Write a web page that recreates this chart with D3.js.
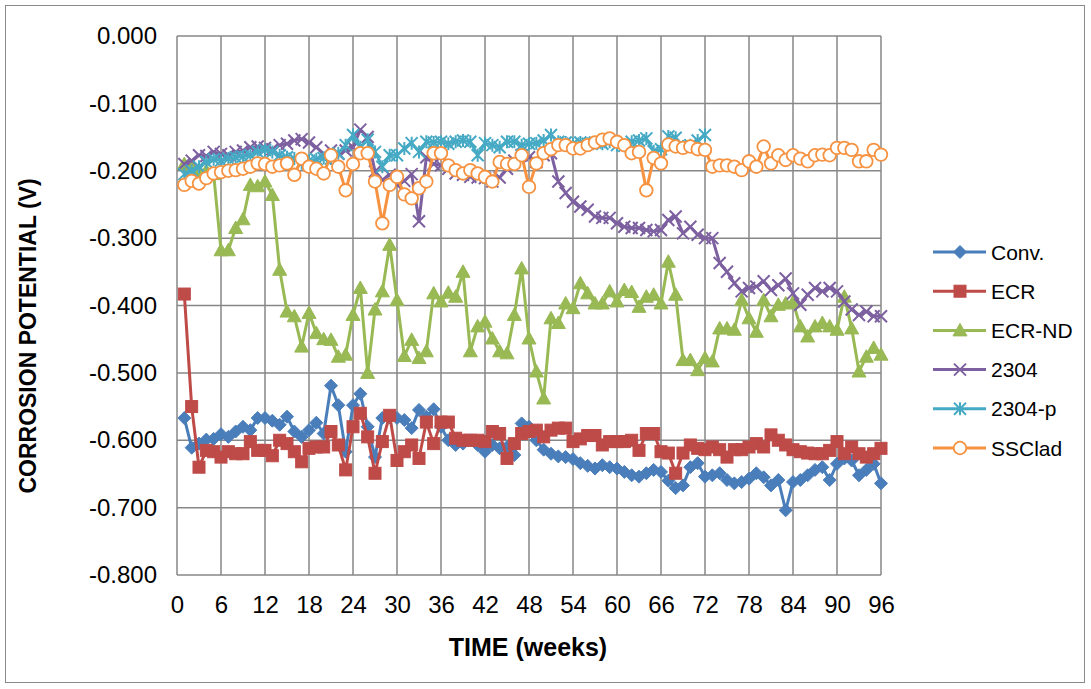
<!DOCTYPE html>
<html><head><meta charset="utf-8">
<script src="https://cdn.jsdelivr.net/npm/d3@7"></script>
<style>body{margin:0;background:#fff;}svg{display:block;font-family:"Liberation Sans",Arial,sans-serif;}</style>
</head><body><svg id="c" width="1091" height="689"></svg>
<script>
const weeks = d3.range(1, 97);
const weeksP = d3.range(1, 73);
const seriesNames = ["Conv.", "ECR", "ECR-ND", "2304", "2304-p", "SSClad"];
const xTicks = [0,6,12,18,24,30,36,42,48,54,60,66,72,78,84,90,96];
const yTicks = [0,-0.1,-0.2,-0.3,-0.4,-0.5,-0.6,-0.7,-0.8];
const yTickLabels = ["0.000","-0.100","-0.200","-0.300","-0.400","-0.500","-0.600","-0.700","-0.800"];

const conv = [-0.567,-0.611,-0.605,-0.599,-0.598,-0.591,-0.595,-0.587,-0.580,-0.585,-0.567,-0.567,-0.571,-0.577,-0.565,-0.587,-0.595,-0.585,-0.574,-0.590,
 -0.519,-0.548,-0.617,-0.548,-0.531,-0.580,-0.625,-0.567,-0.566,-0.567,-0.570,-0.582,-0.555,-0.565,-0.554,-0.580,-0.600,-0.607,-0.605,-0.600,
 -0.607,-0.617,-0.607,-0.612,-0.610,-0.622,-0.575,-0.580,-0.600,-0.614,-0.620,-0.624,-0.625,-0.628,-0.634,-0.638,-0.642,-0.637,-0.640,-0.642,
 -0.647,-0.652,-0.654,-0.649,-0.644,-0.647,-0.660,-0.671,-0.667,-0.640,-0.634,-0.654,-0.652,-0.649,-0.659,-0.664,-0.662,-0.657,-0.649,-0.655,
 -0.667,-0.659,-0.704,-0.662,-0.659,-0.652,-0.644,-0.640,-0.659,-0.635,-0.627,-0.630,-0.652,-0.644,-0.635,-0.664];
const ecr = [-0.383,-0.550,-0.640,-0.615,-0.617,-0.625,-0.617,-0.620,-0.620,-0.602,-0.615,-0.615,-0.623,-0.600,-0.605,-0.617,-0.632,-0.612,-0.610,-0.610,
 -0.587,-0.607,-0.644,-0.580,-0.560,-0.595,-0.649,-0.602,-0.563,-0.630,-0.617,-0.607,-0.627,-0.573,-0.605,-0.573,-0.573,-0.597,-0.600,-0.600,
 -0.600,-0.602,-0.587,-0.590,-0.627,-0.605,-0.590,-0.587,-0.585,-0.595,-0.585,-0.582,-0.582,-0.602,-0.598,-0.593,-0.593,-0.607,-0.602,-0.602,
 -0.602,-0.600,-0.615,-0.590,-0.590,-0.617,-0.619,-0.649,-0.619,-0.607,-0.612,-0.614,-0.610,-0.614,-0.625,-0.614,-0.614,-0.610,-0.605,-0.610,
 -0.592,-0.600,-0.607,-0.614,-0.617,-0.619,-0.620,-0.620,-0.615,-0.602,-0.620,-0.610,-0.620,-0.625,-0.620,-0.612];
const ecrNd = [-0.190,-0.195,-0.200,-0.200,-0.205,-0.318,-0.318,-0.285,-0.272,-0.221,-0.223,-0.216,-0.236,-0.347,-0.409,-0.416,-0.461,-0.411,-0.441,-0.450,
 -0.451,-0.476,-0.473,-0.414,-0.374,-0.500,-0.406,-0.379,-0.310,-0.392,-0.475,-0.451,-0.478,-0.468,-0.382,-0.394,-0.381,-0.387,-0.350,-0.468,
 -0.431,-0.424,-0.449,-0.468,-0.471,-0.414,-0.345,-0.449,-0.498,-0.538,-0.419,-0.426,-0.397,-0.404,-0.367,-0.382,-0.397,-0.397,-0.379,-0.394,
 -0.377,-0.380,-0.402,-0.387,-0.384,-0.397,-0.335,-0.384,-0.481,-0.481,-0.496,-0.478,-0.483,-0.434,-0.434,-0.436,-0.392,-0.419,-0.439,-0.392,
 -0.416,-0.399,-0.397,-0.395,-0.431,-0.446,-0.431,-0.426,-0.431,-0.436,-0.387,-0.434,-0.498,-0.476,-0.463,-0.473];
const s2304 = [-0.190,-0.185,-0.177,-0.178,-0.172,-0.175,-0.177,-0.172,-0.170,-0.165,-0.164,-0.166,-0.168,-0.162,-0.160,-0.155,-0.153,-0.158,-0.165,-0.175,
 -0.170,-0.175,-0.170,-0.165,-0.139,-0.150,-0.201,-0.214,-0.206,-0.221,-0.215,-0.205,-0.275,-0.180,-0.190,-0.192,-0.197,-0.204,-0.206,-0.209,
 -0.210,-0.211,-0.216,-0.210,-0.197,-0.185,-0.177,-0.180,-0.187,-0.177,-0.174,-0.216,-0.233,-0.246,-0.253,-0.258,-0.268,-0.270,-0.270,-0.278,
 -0.283,-0.285,-0.285,-0.288,-0.290,-0.288,-0.273,-0.268,-0.293,-0.283,-0.295,-0.300,-0.300,-0.337,-0.350,-0.367,-0.379,-0.374,-0.372,-0.364,
 -0.377,-0.370,-0.360,-0.382,-0.399,-0.384,-0.374,-0.379,-0.374,-0.379,-0.394,-0.406,-0.414,-0.409,-0.416,-0.416];
const s2304p = [-0.205,-0.200,-0.194,-0.187,-0.183,-0.185,-0.182,-0.180,-0.179,-0.177,-0.172,-0.169,-0.172,-0.177,-0.180,-0.182,-0.189,-0.185,-0.183,-0.181,
 -0.182,-0.174,-0.162,-0.147,-0.165,-0.154,-0.172,-0.194,-0.177,-0.177,-0.167,-0.159,-0.172,-0.157,-0.158,-0.157,-0.160,-0.157,-0.155,-0.157,
 -0.177,-0.159,-0.162,-0.165,-0.157,-0.157,-0.162,-0.160,-0.159,-0.155,-0.147,-0.157,-0.158,-0.160,-0.158,-0.160,-0.158,-0.160,-0.157,-0.162,
 -0.163,-0.157,-0.155,-0.152,-0.171,-0.168,-0.149,-0.151,-0.164,-0.162,-0.155,-0.147];
const ssclad = [-0.221,-0.215,-0.219,-0.211,-0.204,-0.202,-0.200,-0.199,-0.197,-0.194,-0.189,-0.190,-0.194,-0.192,-0.189,-0.206,-0.182,-0.194,-0.197,-0.204,
 -0.177,-0.194,-0.229,-0.190,-0.174,-0.174,-0.216,-0.278,-0.221,-0.209,-0.235,-0.241,-0.226,-0.216,-0.174,-0.174,-0.192,-0.199,-0.204,-0.199,
 -0.204,-0.209,-0.216,-0.187,-0.190,-0.190,-0.177,-0.224,-0.189,-0.174,-0.168,-0.162,-0.162,-0.167,-0.167,-0.162,-0.158,-0.154,-0.152,-0.157,
 -0.162,-0.174,-0.172,-0.229,-0.181,-0.189,-0.161,-0.164,-0.166,-0.164,-0.168,-0.169,-0.194,-0.192,-0.192,-0.194,-0.199,-0.186,-0.194,-0.164,
 -0.189,-0.177,-0.184,-0.177,-0.182,-0.186,-0.177,-0.176,-0.177,-0.166,-0.166,-0.169,-0.186,-0.186,-0.169,-0.176];

const colors = ["#4A7EBB","#BE4B48","#98B954","#7D60A0","#46AAC5","#F69240"];
const markers = ["diamond","square","triangle","x","star","circle"];
const seriesX = [weeks, weeks, weeks, weeks, weeksP, weeks];
const seriesY = [conv, ecr, ecrNd, s2304, s2304p, ssclad];

const svg = d3.select("#c");
const L = 177, R = 881, T = 36, B = 575;
const x = d3.scaleLinear().domain([0, 96]).range([L, R]);
const y = d3.scaleLinear().domain([-0.8, 0]).range([B, T]);

// chart border
svg.append("rect").attr("x", 5.5).attr("y", 5.5).attr("width", 1079).attr("height", 677)
  .attr("fill", "#fff").attr("stroke", "#8a8a8a").attr("stroke-width", 1);

// grid
const grid = svg.append("g").attr("stroke", "#878787").attr("stroke-width", 1.5);
grid.selectAll("line.v").data(xTicks).join("line").attr("class","v")
  .attr("x1", d => x(d)).attr("x2", d => x(d)).attr("y1", T).attr("y2", B);
grid.selectAll("line.h").data(yTicks).join("line").attr("class","h")
  .attr("x1", L).attr("x2", R).attr("y1", d => y(d)).attr("y2", d => y(d));

// axes labels
const xAxis = d3.axisBottom(x).tickValues(xTicks).tickSize(0).tickPadding(21).tickFormat(d => String(d));
const gx = svg.append("g").attr("transform", `translate(0,${B})`).call(xAxis);
gx.select(".domain").remove();
gx.selectAll("text").attr("font-size", 24).attr("fill", "#000").attr("font-family", "Liberation Sans, Arial, sans-serif");

const yAxis = d3.axisLeft(y).tickValues(yTicks).tickSize(0).tickPadding(20).tickFormat((d, i) => yTickLabels[i]);
const gy = svg.append("g").attr("transform", `translate(${L},0)`).call(yAxis);
gy.select(".domain").remove();
gy.selectAll("text").attr("font-size", 24).attr("fill", "#000").attr("font-family", "Liberation Sans, Arial, sans-serif");

svg.append("text").attr("x", 528).attr("y", 656).attr("text-anchor", "middle")
  .attr("font-size", 25).attr("font-weight", "bold").text("TIME (weeks)");
svg.append("text").attr("transform", `translate(36,336) rotate(-90)`).attr("text-anchor", "middle")
  .attr("font-size", 23).attr("font-weight", "bold").text("CORROSION POTENTIAL (V)");

function drawMarker(g, type, cx, cy, color) {
  const s = 6.5;
  if (type === "diamond") {
    g.append("path").attr("d", `M${cx},${cy-s}L${cx+s},${cy}L${cx},${cy+s}L${cx-s},${cy}Z`).attr("fill", color).attr("stroke", color).attr("stroke-width", 1);
  } else if (type === "square") {
    g.append("rect").attr("x", cx-6).attr("y", cy-6).attr("width", 12).attr("height", 12).attr("fill", color).attr("stroke", color).attr("stroke-width", 1);
  } else if (type === "triangle") {
    g.append("path").attr("d", `M${cx},${cy-7}L${cx+7},${cy+5.5}L${cx-7},${cy+5.5}Z`).attr("fill", color).attr("stroke", color).attr("stroke-width", 1);
  } else if (type === "x") {
    g.append("path").attr("d", `M${cx-6},${cy-6}L${cx+6},${cy+6}M${cx-6},${cy+6}L${cx+6},${cy-6}`).attr("stroke", color).attr("stroke-width", 2).attr("fill", "none");
  } else if (type === "star") {
    g.append("path").attr("d", `M${cx-6},${cy-6}L${cx+6},${cy+6}M${cx-6},${cy+6}L${cx+6},${cy-6}M${cx},${cy-6.5}L${cx},${cy+6.5}`).attr("stroke", color).attr("stroke-width", 2).attr("fill", "none");
  } else if (type === "circle") {
    g.append("circle").attr("cx", cx).attr("cy", cy).attr("r", 6.3).attr("fill", "#fff").attr("stroke", color).attr("stroke-width", 1.8);
  }
}

const line = d3.line().x(d => x(d[0])).y(d => y(d[1]));
seriesNames.forEach((name, i) => {
  const pts = seriesX[i].map((w, j) => [w, seriesY[i][j]]);
  const g = svg.append("g");
  g.append("path").datum(pts).attr("d", line).attr("fill", "none").attr("stroke", colors[i]).attr("stroke-width", 3).attr("stroke-linejoin", "round");
  pts.forEach(p => drawMarker(g, markers[i], x(p[0]), y(p[1]), colors[i]));
});

// legend
const legY0 = 252, legDy = 39.2;
seriesNames.forEach((name, i) => {
  const ly = legY0 + i * legDy;
  const g = svg.append("g");
  g.append("line").attr("x1", 933).attr("x2", 986).attr("y1", ly).attr("y2", ly).attr("stroke", colors[i]).attr("stroke-width", 3);
  drawMarker(g, markers[i], 960, ly, colors[i]);
  g.append("text").attr("x", 991).attr("y", ly + 7.5).attr("font-size", 21).attr("fill", "#000").text(name);
});
</script></body></html>
